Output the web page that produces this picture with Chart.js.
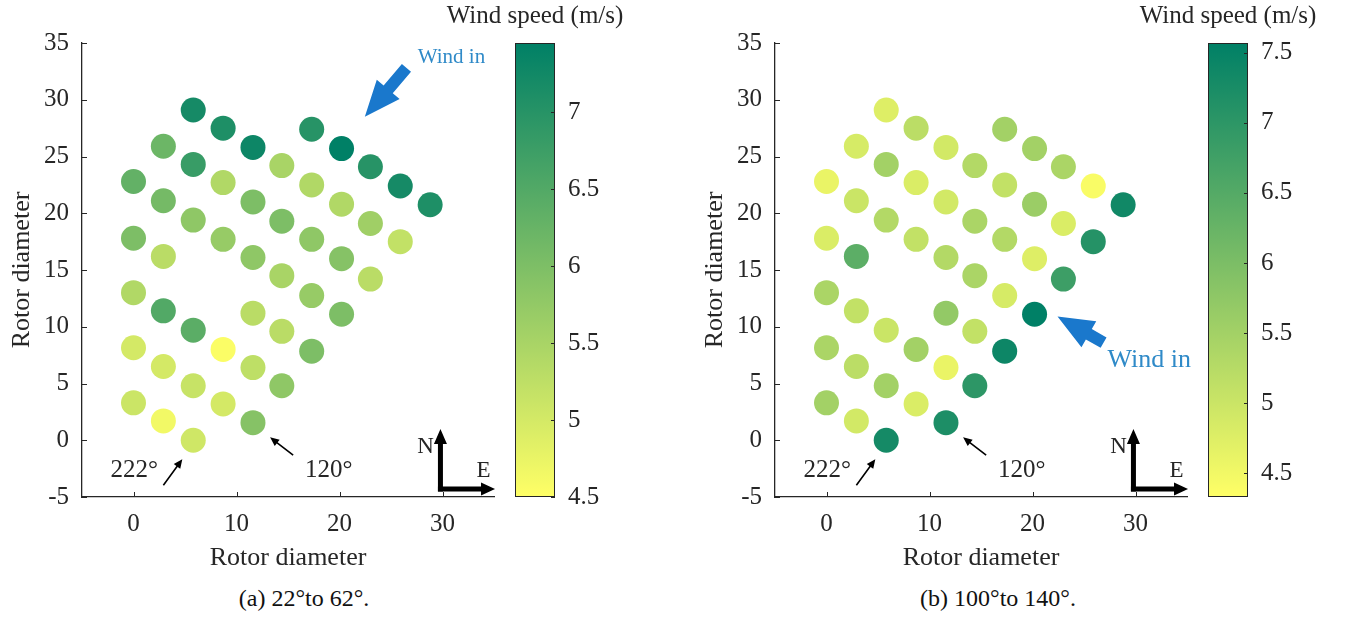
<!DOCTYPE html>
<html>
<head>
<meta charset="utf-8">
<script src="https://cdn.jsdelivr.net/npm/chart.js@4.4.1/dist/chart.umd.min.js"></script>
<style>
  body { margin: 0; background: #fff; width: 1346px; height: 622px; position: relative; overflow: hidden; }
  canvas { position: absolute; top: 0; }
  .caption { position: absolute; top: 586px; font-family: 'Liberation Serif', serif; font-size: 24px;
             line-height: 1; color: #111; transform: translateX(-50%); white-space: nowrap; }
</style>
</head>
<body>
<canvas id="mapA" width="510" height="580" style="left:0px"></canvas>
<canvas id="barA" width="220" height="520" style="left:430px"></canvas>
<canvas id="mapB" width="510" height="580" style="left:693px"></canvas>
<canvas id="barB" width="220" height="520" style="left:1123px"></canvas>
<div class="caption" style="left:304px">(a) 22°to 62°.</div>
<div class="caption" style="left:998px">(b) 100°to 140°.</div>
<script>
// turbine positions (rotor diameters), listed column by column
const xPos = [
  0, 0, 0, 0, 0,
  2.9, 2.9, 2.9, 2.9, 2.9, 2.9,
  5.8, 5.8, 5.8, 5.8, 5.8, 5.8,
  8.7, 8.7, 8.7, 8.7, 8.7,
  11.6, 11.6, 11.6, 11.6, 11.6, 11.6,
  14.4, 14.4, 14.4, 14.4, 14.4,
  17.3, 17.3, 17.3, 17.3, 17.3,
  20.2, 20.2, 20.2, 20.2,
  23.0, 23.0, 23.0,
  25.9, 25.9,
  28.8
];
const yPos = [
  3.3, 8.15, 13.0, 17.8, 22.8,
  1.7, 6.5, 11.4, 16.2, 21.1, 25.9,
  0.0, 4.8, 9.7, 19.4, 24.3, 29.1,
  3.2, 8.0, 17.7, 22.7, 27.5,
  1.55, 6.4, 11.2, 16.1, 21.0, 25.8,
  4.8, 9.6, 14.5, 19.3, 24.2,
  7.85, 12.75, 17.7, 22.5, 27.4,
  11.1, 16.0, 20.8, 25.7,
  14.2, 19.1, 24.1,
  17.5, 22.4,
  20.75
];
// wind speed (m/s) per turbine, same order
const speedA = [
  5.1, 5.0, 5.4, 6.0, 6.3,
  4.65, 5.0, 6.5, 5.3, 6.1, 6.2,
  5.05, 5.15, 6.4, 5.8, 6.8, 7.2,
  5.0, 4.55, 5.7, 5.4, 7.1,
  5.9, 5.25, 5.3, 5.8, 6.0, 7.3,
  5.8, 5.3, 5.5, 6.0, 5.5,
  6.0, 5.7, 5.8, 5.4, 7.0,
  6.0, 5.9, 5.4, 7.45,
  5.3, 5.6, 7.0,
  5.2, 7.2,
  7.1
];
const speedB = [
  5.5, 5.4, 5.4, 4.8, 4.6,
  4.9, 5.2, 5.1, 6.4, 5.0, 4.85,
  7.3, 5.5, 5.0, 5.3, 5.5, 4.75,
  4.8, 5.5, 5.1, 4.8, 5.2,
  7.2, 4.6, 5.7, 5.3, 4.9, 4.9,
  7.0, 5.1, 5.4, 5.4, 5.3,
  7.4, 4.85, 5.3, 5.1, 5.5,
  7.57, 4.75, 5.6, 5.5,
  6.8, 4.8, 5.4,
  7.1, 4.4,
  7.35
];
const rangeA = [4.5, 7.45];
const rangeB = [4.33, 7.57];
const xTicks = [0, 10, 20, 30];
const yTicks = [-5, 0, 5, 10, 15, 20, 25, 30, 35];
const barTicks = [4.5, 5, 5.5, 6, 6.5, 7, 7.5];

const serif = 'Liberation Serif, Times New Roman, serif';
const ink = '#262626';

// MATLAB "summer" map, low = yellow, high = green
function summer(v, lo, hi) {
  let t = (v - lo) / (hi - lo);
  t = Math.max(0, Math.min(1, t));
  return 'rgb(' + Math.round(255 * (1 - t)) + ',' + Math.round(255 * (1 - 0.5 * t)) + ',102)';
}

function arrow(ctx, x0, y0, x1, y1, headLen, headHalf, shaftHalf) {
  const dx = x1 - x0, dy = y1 - y0, len = Math.hypot(dx, dy);
  const ux = dx / len, uy = dy / len, nx = -uy, ny = ux;
  const bx = x1 - ux * headLen, by = y1 - uy * headLen;
  ctx.beginPath();
  ctx.moveTo(x0 + nx * shaftHalf, y0 + ny * shaftHalf);
  ctx.lineTo(bx + nx * shaftHalf, by + ny * shaftHalf);
  ctx.lineTo(bx + nx * headHalf, by + ny * headHalf);
  ctx.lineTo(x1, y1);
  ctx.lineTo(bx - nx * headHalf, by - ny * headHalf);
  ctx.lineTo(bx - nx * shaftHalf, by - ny * shaftHalf);
  ctx.lineTo(x0 - nx * shaftHalf, y0 - ny * shaftHalf);
  ctx.closePath();
  ctx.fill();
}

// small inward tick marks like MATLAB axes
const inwardTicks = {
  id: 'inwardTicks',
  afterDraw(chart) {
    const { ctx, chartArea: a, scales: { x, y } } = chart;
    ctx.save();
    ctx.strokeStyle = ink;
    ctx.lineWidth = 1;
    ctx.beginPath();
    x.ticks.forEach(t => {
      const px = Math.round(x.getPixelForValue(t.value)) + 0.5;
      ctx.moveTo(px, a.bottom); ctx.lineTo(px, a.bottom - 5);
    });
    y.ticks.forEach(t => {
      const py = Math.round(y.getPixelForValue(t.value)) + 0.5;
      ctx.moveTo(a.left, py); ctx.lineTo(a.left + 5, py);
    });
    ctx.stroke();
    ctx.restore();
  }
};

// compass, direction labels and the wind arrow, placed in data units
const decor = {
  id: 'decor',
  afterDraw(chart, args, opts) {
    const { ctx, scales: { x, y } } = chart;
    const P = (dx, dy) => [x.getPixelForValue(dx), y.getPixelForValue(dy)];
    ctx.save();

    // N / E compass
    ctx.fillStyle = '#000';
    const c = P(29.8, -4.3), n = P(29.8, 1.0), e = P(35.1, -4.3);
    arrow(ctx, c[0], c[1] + 2.5, n[0], n[1], 15, 6.5, 2.5);
    arrow(ctx, c[0] - 2.5, c[1], e[0], e[1], 14, 6.5, 2.5);
    ctx.font = '23px ' + serif;
    ctx.fillStyle = ink;
    ctx.textAlign = 'center';
    ctx.textBaseline = 'middle';
    let p = P(28.35, -0.6); ctx.fillText('N', p[0], p[1]);
    p = P(33.98, -2.7); ctx.fillText('E', p[0], p[1]);

    // angle labels
    ctx.font = '25px ' + serif;
    ctx.textAlign = 'left';
    p = P(-2.23, -2.64); ctx.fillText('222°', p[0], p[1]);
    p = P(16.65, -2.64); ctx.fillText('120°', p[0], p[1]);
    ctx.fillStyle = '#000';
    let a0 = P(2.9, -3.96), a1 = P(4.74, -1.67);
    arrow(ctx, a0[0], a0[1], a1[0], a1[1], 9, 4, 0.8);
    a0 = P(15.5, -1.32); a1 = P(13.26, 0.26);
    arrow(ctx, a0[0], a0[1], a1[0], a1[1], 9, 4, 0.8);

    // wind direction
    ctx.fillStyle = '#1a78cc';
    a0 = P(opts.tail[0], opts.tail[1]); a1 = P(opts.tip[0], opts.tip[1]);
    arrow(ctx, a0[0], a0[1], a1[0], a1[1], 36, 15, 6);
    ctx.fillStyle = '#2f8ac8';
    ctx.font = opts.textSize + 'px ' + serif;
    p = P(opts.text[0], opts.text[1]);
    ctx.fillText('Wind in', p[0], p[1]);
    ctx.restore();
  }
};

// colorbar gradient, frame, ticks and title
const colorbar = {
  id: 'colorbar',
  beforeDraw(chart) {
    const { ctx, chartArea: a, scales: { y } } = chart;
    ctx.save();
    const g = ctx.createLinearGradient(0, y.getPixelForValue(y.min), 0, y.getPixelForValue(y.max));
    g.addColorStop(0, summer(y.min, y.min, y.max));
    g.addColorStop(1, summer(y.max, y.min, y.max));
    ctx.fillStyle = g;
    ctx.fillRect(a.left, a.top, a.right - a.left, a.bottom - a.top);
    ctx.strokeStyle = ink;
    ctx.lineWidth = 1;
    ctx.strokeRect(a.left + 0.5, a.top + 0.5, a.right - a.left - 1, a.bottom - a.top - 1);
    ctx.beginPath();
    y.ticks.forEach(t => {
      const py = Math.round(y.getPixelForValue(t.value)) + 0.5;
      ctx.moveTo(a.right, py); ctx.lineTo(a.right - 4, py);
    });
    ctx.stroke();
    ctx.fillStyle = ink;
    ctx.font = '25px ' + serif;
    ctx.textAlign = 'center';
    ctx.textBaseline = 'middle';
    ctx.fillText('Wind speed (m/s)', (a.left + a.right) / 2, 16);
    ctx.restore();
  }
};

function makeMap(id, speeds, range, wind) {
  const font = { family: serif, size: 25 };
  const titleFont = { family: serif, size: 26 };
  new Chart(document.getElementById(id), {
    type: 'scatter',
    data: {
      datasets: [{
        data: xPos.map((x, i) => ({ x: x, y: yPos[i] })),
        pointRadius: 12.5,
        pointHoverRadius: 12.5,
        pointBorderWidth: 0,
        pointBackgroundColor: speeds.map(v => summer(v, range[0], range[1]))
      }]
    },
    options: {
      responsive: false,
      animation: false,
      events: [],
      layout: { padding: { top: 43, right: 16, left: 0, bottom: 0 } },
      plugins: { legend: { display: false }, tooltip: { enabled: false }, decor: wind },
      scales: {
        x: {
          type: 'linear', min: -5, max: 35,
          afterBuildTicks: s => { s.ticks = xTicks.map(v => ({ value: v })); },
          afterFit: s => { s.height = 83; s.paddingLeft = 0; s.paddingRight = 0; },
          grid: { display: false, drawTicks: false },
          border: { color: ink, width: 1.3 },
          ticks: { color: ink, font: font, padding: 12, maxRotation: 0, callback: v => String(v) },
          title: { display: true, text: 'Rotor diameter', color: ink, font: titleFont, padding: { top: 6, bottom: 6 } }
        },
        y: {
          type: 'linear', min: -5, max: 35,
          afterBuildTicks: s => { s.ticks = yTicks.map(v => ({ value: v })); },
          afterFit: s => { s.width = 82; s.paddingTop = 0; s.paddingBottom = 0; },
          grid: { display: false, drawTicks: false },
          border: { color: ink, width: 1.3 },
          ticks: { color: ink, font: font, padding: 13, callback: v => String(v) },
          title: { display: true, text: 'Rotor diameter', color: ink, font: titleFont, padding: { top: 7, bottom: 6 } }
        }
      }
    },
    plugins: [inwardTicks, decor]
  });
}

function makeBar(id, range) {
  new Chart(document.getElementById(id), {
    type: 'scatter',
    data: { datasets: [] },
    options: {
      responsive: false,
      animation: false,
      events: [],
      layout: { padding: { left: 85, right: 0, top: 43, bottom: 23 } },
      plugins: { legend: { display: false }, tooltip: { enabled: false } },
      scales: {
        x: { display: false },
        y: {
          position: 'right', min: range[0], max: range[1],
          afterBuildTicks: s => { s.ticks = barTicks.filter(v => v >= range[0] && v <= range[1]).map(v => ({ value: v })); },
          afterFit: s => { s.width = 95; s.paddingTop = 0; s.paddingBottom = 0; },
          grid: { display: false, drawTicks: false },
          border: { display: false },
          ticks: { color: ink, font: { family: serif, size: 25 }, padding: 13, callback: v => String(v) }
        }
      }
    },
    plugins: [colorbar]
  });
}

makeMap('mapA', speedA, rangeA, { tail: [26.5, 32.8], tip: [22.46, 28.5], text: [27.6, 33.7], textSize: 21 });
makeMap('mapB', speedB, rangeB, { tail: [26.9, 8.6], tip: [22.43, 10.9], text: [27.28, 7.04], textSize: 26 });
makeBar('barA', rangeA);
makeBar('barB', rangeB);
</script>
</body>
</html>
